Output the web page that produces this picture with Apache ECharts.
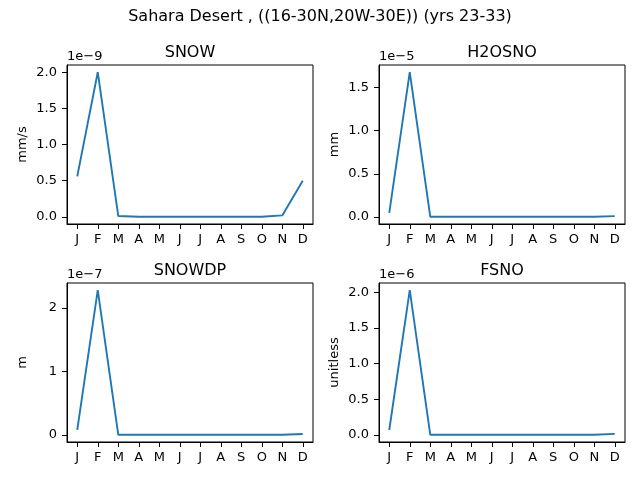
<!DOCTYPE html>
<html>
<head>
<meta charset="utf-8">
<script src="https://cdn.jsdelivr.net/npm/echarts@6/dist/echarts.min.js"></script>
<style>
  html, body { margin: 0; padding: 0; background: #fff; }
  #main { width: 640px; height: 480px; }
</style>
</head>
<body>
<div id="main"></div>
<script>
// month labels on every x axis
var months = ['J', 'F', 'M', 'A', 'M', 'J', 'J', 'A', 'S', 'O', 'N', 'D'];

// values are in units of the axis offset (1e-9, 1e-5, ...)
var snowVals   = [0.56, 2.0, 0.012, 0.002, 0.001, 0.001, 0.001, 0.001, 0.001, 0.002, 0.02, 0.50];
var h2osnoVals = [0.05, 1.675, 0.005, 0.004, 0.004, 0.004, 0.004, 0.004, 0.004, 0.004, 0.005, 0.012];
var snowdpVals = [0.08, 2.28, 0.004, 0.003, 0.003, 0.003, 0.003, 0.003, 0.003, 0.003, 0.004, 0.016];
var fsnoVals   = [0.07, 2.03, 0.004, 0.003, 0.003, 0.003, 0.003, 0.003, 0.003, 0.003, 0.004, 0.016];

var snowTicks   = [0, 0.5, 1.0, 1.5, 2.0];
var h2osnoTicks = [0, 0.5, 1.0, 1.5];
var snowdpTicks = [0, 1, 2];
var fsnoTicks   = [0, 0.5, 1.0, 1.5, 2.0];

var titles = ['SNOW', 'H2OSNO', 'SNOWDP', 'FSNO'];
var units = ['mm/s', 'mm', 'm', 'unitless'];
var offsets = ['1e\u22129', '1e\u22125', '1e\u22127', '1e\u22126'];
var suptitle = 'Sahara Desert , ((16-30N,20W-30E)) (yrs 23-33)';

var FONT = 'DejaVu Sans';
var LINE = '#1f77b4';

var panels = [
    {vals: snowVals, ticks: snowTicks, dec: 1},
    {vals: h2osnoVals, ticks: h2osnoTicks, dec: 1},
    {vals: snowdpVals, ticks: snowdpTicks, dec: 0},
    {vals: fsnoVals, ticks: fsnoTicks, dec: 1}
];

// axes boxes, in pixels
var boxes = [
    {left: 67, top: 65, w: 246, h: 159},
    {left: 379, top: 65, w: 246, h: 159},
    {left: 67, top: 283, w: 246, h: 159},
    {left: 379, top: 283, w: 246, h: 159}
];

var grid = [], xAxis = [], yAxis = [], series = [], graphic = [];

for (var i = 0; i < panels.length; i++) {
    var p = panels[i], b = boxes[i];
    var lo = Math.min.apply(null, p.vals), hi = Math.max.apply(null, p.vals);
    var pad = (hi - lo) * 0.05;
    var dec = p.dec;

    grid.push({
        left: b.left, top: b.top, width: b.w, height: b.h,
        show: true, borderColor: '#000', borderWidth: 1, backgroundColor: 'transparent'
    });
    xAxis.push({
        type: 'category', gridIndex: i, data: months, boundaryGap: true,
        axisLine: {show: true, onZero: false, lineStyle: {color: '#000', width: 1}},
        axisTick: {show: true, alignWithLabel: true, length: 5, lineStyle: {color: '#000', width: 1}},
        axisLabel: {color: '#000', fontFamily: FONT, fontSize: 13, margin: 9, interval: 0},
        splitLine: {show: false}
    });
    yAxis.push({
        type: 'value', gridIndex: i, min: lo - pad, max: hi + pad,
        name: units[i], nameLocation: 'middle', nameGap: 38,
        nameTextStyle: {color: '#000', fontFamily: FONT, fontSize: 13},
        axisLine: {show: true, onZero: false, lineStyle: {color: '#000', width: 1}},
        axisTick: {show: true, length: 5, customValues: p.ticks, lineStyle: {color: '#000', width: 1}},
        axisLabel: {
            color: '#000', fontFamily: FONT, fontSize: 13, margin: 10, customValues: p.ticks,
            formatter: (function (d) { return function (v) { return v.toFixed(d); }; })(dec)
        },
        splitLine: {show: false}
    });
    series.push({
        type: 'line', xAxisIndex: i, yAxisIndex: i, data: p.vals,
        showSymbol: false, symbol: 'none', animation: false,
        lineStyle: {color: LINE, width: 1.9}
    });
    graphic.push({
        type: 'text', x: b.left + b.w / 2, y: b.top - 12,
        style: {text: titles[i], fill: '#000', font: '16px "' + FONT + '"', textAlign: 'center', textVerticalAlign: 'middle'}
    });
    graphic.push({
        type: 'text', x: b.left, y: b.top - 8,
        style: {text: offsets[i], fill: '#000', font: '13px "' + FONT + '"', textAlign: 'left', textVerticalAlign: 'middle'}
    });
}

graphic.push({
    type: 'text', x: 320, y: 17,
    style: {text: suptitle, fill: '#000', font: '16px "' + FONT + '"', textAlign: 'center', textVerticalAlign: 'middle'}
});

var chart = echarts.init(document.getElementById('main'));
chart.setOption({
    backgroundColor: '#fff',
    animation: false,
    grid: grid,
    xAxis: xAxis,
    yAxis: yAxis,
    series: series,
    graphic: graphic
});
</script>
</body>
</html>
